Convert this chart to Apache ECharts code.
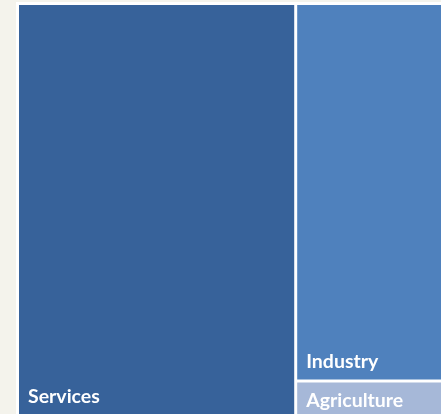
<!DOCTYPE html>
<html><head><meta charset="utf-8">
<script src="https://cdn.jsdelivr.net/npm/echarts@6/dist/echarts.min.js"></script>
<style>html,body{margin:0;padding:0;background:#f4f3ec;}#c{width:441px;height:414px;}</style>
</head><body><div id="c"></div>
<script>
const sectors = ['Services', 'Industry', 'Agriculture'];
const shares = [65, 32, 3];
const colors = ['#37629a', '#4f81bd', '#a6b8d8'];

const data = sectors.map((s, i) => ({
  name: s,
  value: shares[i],
  itemStyle: { color: colors[i] },
  label: i === 2
    ? { position: [9, 8], padding: 0 }
    : { position: 'insideBottomLeft', padding: [6, 8, 8, 9] }
}));

const chart = echarts.init(document.getElementById('c'));
chart.setOption({
  backgroundColor: '#f4f3ec',
  animation: false,
  series: [{
    type: 'treemap',
    left: 16, top: 2, width: 431, height: 416,
    roam: false, nodeClick: false,
    breadcrumb: { show: false },
    squareRatio: 1,
    label: {
      show: true, color: '#ffffff', fontFamily: 'Lato', fontWeight: 'bold', fontSize: 19.5
    },
    upperLabel: { show: false },
    levels: [
      { itemStyle: { borderColor: '#ffffff', borderWidth: 3, gapWidth: 3 } }
    ],
    data: data
  }]
});
</script></body></html>
